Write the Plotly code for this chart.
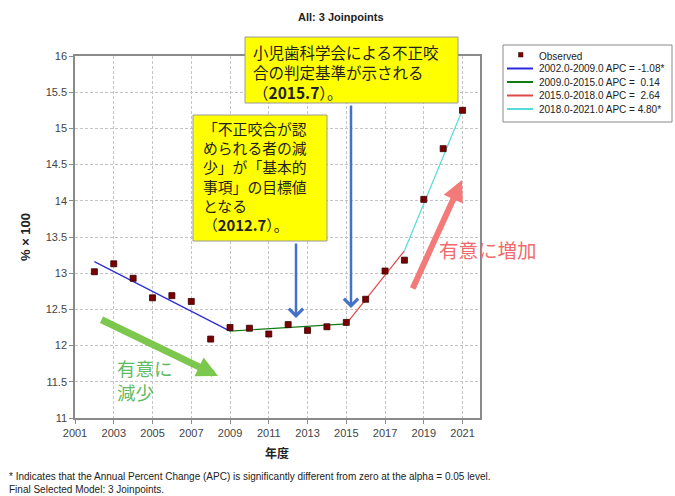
import plotly.graph_objects as go

# ---------------- data ----------------
years = list(range(2002, 2022))
observed = [13.02, 13.13, 12.93, 12.66, 12.69, 12.61, 12.09, 12.25, 12.24, 12.16,
            12.29, 12.21, 12.26, 12.32, 12.64, 13.03, 13.18, 14.02, 14.72, 15.25]

seg_years = [[2002, 2009], [2009, 2015], [2015, 2018], [2018, 2021]]
seg_values = [[13.16, 12.20], [12.20, 12.30], [12.30, 13.31], [13.31, 15.26]]
seg_labels = ["2002.0-2009.0 APC = -1.08*", "2009.0-2015.0 APC =  0.14",
              "2015.0-2018.0 APC =  2.64", "2018.0-2021.0 APC = 4.80*"]
seg_colors = ["#2b2bdd", "#127a12", "#e04848", "#55dcd8"]

box1_lines = ["小児歯科学会による不正咬", "合の判定基準が示される", "（<b>2015.7</b>）。"]
box2_lines = ["「不正咬合が認", "められる者の減", "少」が「基本的", "事項」の目標値",
              "となる", "（<b>2012.7</b>）。"]
footnotes = ["* Indicates that the Annual Percent Change (APC) is significantly different from zero at the alpha = 0.05 level.",
             "Final Selected Model: 3 Joinpoints."]

# ---------------- layout geometry ----------------
W, H = 675, 496
L, R, T, B = 75, 480, 56, 418


def px(x):
    return (x - L) / (R - L)


def py(y):
    return (B - y) / (B - T)


LAT = "Liberation Sans, Arial, sans-serif"
CJK = "Noto Sans CJK JP, sans-serif"


def label(x, y, text, family, size, color="#222", xanchor="left", **kw):
    return dict(x=px(x), y=py(y), xref="paper", yref="paper", text=text,
                showarrow=False, xanchor=xanchor, yanchor="middle",
                font=dict(family=family, size=size, color=color), **kw)


fig = go.Figure()

for i in range(4):
    fig.add_trace(go.Scatter(x=seg_years[i], y=seg_values[i], mode="lines",
                             line=dict(color=seg_colors[i], width=1.2),
                             showlegend=False, hoverinfo="skip"))

fig.add_trace(go.Scatter(x=years, y=observed, mode="markers",
                         marker=dict(symbol="square", size=6, color="#7a0000",
                                     line=dict(color="#3a0000", width=0.8)),
                         showlegend=False))

shapes = []
annotations = []

# title and axis titles
annotations.append(label(341, 17, "<b>All: 3 Joinpoints</b>", LAT, 11, xanchor="center"))
annotations.append(label(25, 237, "<b>% × 100</b>", LAT, 13, xanchor="center", textangle=-90))
annotations.append(label(277, 452, "<b>年度</b>", CJK, 12, xanchor="center"))
# footnotes
annotations.append(dict(x=px(8), y=py(495.5), xref="paper", yref="paper",
                        text="<br>".join(footnotes), showarrow=False,
                        xanchor="left", yanchor="bottom", align="left", borderpad=0,
                        font=dict(family=LAT, size=10, color="#222")))

# legend (manual)
shapes.append(dict(type="rect", xref="paper", yref="paper",
                   x0=px(503), x1=px(672), y0=py(45), y1=py(122),
                   line=dict(color="#8a8a8a", width=1), fillcolor="white"))
rows = [55, 68.5, 82, 95.5, 109]
shapes.append(dict(type="rect", xref="paper", yref="paper",
                   x0=px(518.5), x1=px(523), y0=py(52.5), y1=py(57),
                   line=dict(color="#3a0000", width=0.5), fillcolor="#7a0000"))
annotations.append(label(537, rows[0] + 1, "Observed", LAT, 10))
for i in range(4):
    yy = rows[i + 1]
    shapes.append(dict(type="line", xref="paper", yref="paper",
                       x0=px(507), x1=px(533), y0=py(yy), y1=py(yy),
                       line=dict(color=seg_colors[i], width=2)))
    annotations.append(label(537, yy, seg_labels[i], LAT, 10))

# yellow boxes
shapes.append(dict(type="rect", xref="paper", yref="paper",
                   x0=px(245), x1=px(458), y0=py(37), y1=py(103),
                   line=dict(color="#9a9a9a", width=1), fillcolor="#ffff00", layer="above"))
shapes.append(dict(type="rect", xref="paper", yref="paper",
                   x0=px(193), x1=px(327), y0=py(115), y1=py(241),
                   line=dict(color="#9a9a9a", width=1), fillcolor="#ffff00", layer="above"))
annotations.append(dict(x=px(251), y=py(72), xref="paper", yref="paper",
                        text="<br>".join(box1_lines), showarrow=False,
                        xanchor="left", yanchor="middle", align="left",
                        font=dict(family=CJK, size=15.5, color="#222")))
annotations.append(dict(x=px(201), y=py(176), xref="paper", yref="paper",
                        text="<br>".join(box2_lines), showarrow=False,
                        xanchor="left", yanchor="middle", align="left",
                        font=dict(family=CJK, size=14.8, color="#222")))

# blue arrows
for tipx, tipy, taily in [(296, 318, 242), (351, 308, 104)]:
    annotations.append(dict(x=px(tipx), y=py(tipy), xref="paper", yref="paper",
                            ax=0, ay=taily - tipy, text="", showarrow=True,
                            arrowhead=4, arrowsize=1.1, arrowwidth=2.5,
                            arrowcolor="#4472c4"))
# green arrow + text
annotations.append(dict(x=px(218), y=py(376), xref="paper", yref="paper",
                        ax=100 - 218, ay=319 - 376, text="", showarrow=True,
                        arrowhead=2, arrowsize=0.6, arrowwidth=7,
                        arrowcolor="#7cc84e"))
annotations.append(dict(x=px(115), y=py(380), xref="paper", yref="paper",
                        text="有意に<br>減少", showarrow=False,
                        xanchor="left", yanchor="middle", align="left",
                        font=dict(family=CJK, size=18.5, color="#62bb62")))
# red arrow + text
annotations.append(dict(x=px(462), y=py(180), xref="paper", yref="paper",
                        ax=412 - 462, ay=290 - 180, text="", showarrow=True,
                        arrowhead=2, arrowsize=0.7, arrowwidth=6,
                        arrowcolor="#f47a7a"))
annotations.append(label(437, 249, "有意に増加", CJK, 19.5, color="#f06c6c"))

fig.update_layout(
    width=W, height=H,
    margin=dict(l=L, r=W - R, t=T, b=H - B, pad=0),
    paper_bgcolor="white", plot_bgcolor="white",
    showlegend=False,
    shapes=shapes, annotations=annotations,
    xaxis=dict(range=[2001, 2021.9], tick0=2001, dtick=2, showgrid=True,
               gridcolor="#c4c4c4", griddash="3px,2px", gridwidth=1,
               showline=True, mirror=True, linecolor="#8a8a8a", linewidth=1.5,
               ticks="outside", ticklen=4, tickcolor="#8a8a8a",
               tickfont=dict(family=LAT, size=11, color="#444"), zeroline=False),
    yaxis=dict(range=[11, 16], tick0=11, dtick=0.5, showgrid=True,
               gridcolor="#c4c4c4", griddash="3px,2px", gridwidth=1,
               showline=True, mirror=True, linecolor="#8a8a8a", linewidth=1.5,
               ticks="outside", ticklen=4, tickcolor="#8a8a8a",
               tickfont=dict(family=LAT, size=11, color="#444"), zeroline=False),
)

fig.write_html("out.html")
